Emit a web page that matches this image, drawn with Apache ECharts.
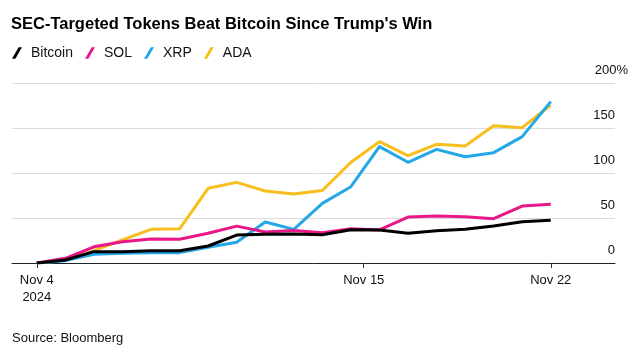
<!DOCTYPE html>
<html>
<head>
<meta charset="utf-8">
<script src="https://cdn.jsdelivr.net/npm/echarts@6/dist/echarts.min.js"></script>
<style>
  html, body { margin: 0; padding: 0; background: #fff; }
  #chart { width: 641px; height: 351px; }
</style>
</head>
<body>
<div id="chart"></div>
<script>
// days since Nov 4 2024, one point per day
const dates = ['Nov 4', 'Nov 5', 'Nov 6', 'Nov 7', 'Nov 8', 'Nov 9', 'Nov 10', 'Nov 11', 'Nov 12', 'Nov 13',
  'Nov 14', 'Nov 15', 'Nov 16', 'Nov 17', 'Nov 18', 'Nov 19', 'Nov 20', 'Nov 21', 'Nov 22']
const bitcoin = [0, 3.3, 12.6, 12.6, 13.7, 13.7, 18.9, 31, 31.9, 32.2, 31.5, 37, 36.7, 33, 35.9, 37.4, 41, 45.9, 47.4]
const sol = [0, 5.2, 18, 23.7, 26.7, 26.3, 33, 41, 34.5, 36, 33.5, 38, 36.7, 51, 52.2, 51.5, 49.3, 63.3, 65.2]
const xrp = [0, 2.6, 9.8, 10.7, 11.5, 11.5, 17.4, 23, 45.5, 37.4, 66.3, 84.8, 129.3, 111.9, 126.3, 118.1, 122.6, 140.4, 179.3]
const ada = [0, 3, 13.7, 25.6, 37.4, 38, 83, 89.6, 80, 76.7, 80.5, 112, 134.8, 119.3, 131.9, 130, 152.6, 150.4, 175.6]

// x tick labels (Bloomberg puts the Nov 15 tick a bit right of the point)
const tickDays = [0, 11.45, 18]
const tickLabels = ['Nov 4\n2024', 'Nov 15', 'Nov 22']
const yTicks = [0, 50, 100, 150, 200]

const font = "'Liberation Sans', Arial, sans-serif"
const toPairs = arr => arr.map((v, i) => [i, v])

const chart = echarts.init(document.getElementById('chart'))

const mkSeries = (name, data, color, z) => ({
  name: name,
  type: 'line',
  data: toPairs(data),
  showSymbol: false,
  z: z,
  lineStyle: { width: 3, color: color, join: 'round' },
  itemStyle: { color: color },
  animation: false
})

const option = {
  backgroundColor: '#fff',
  textStyle: { fontFamily: font },
  title: {
    text: "SEC-Targeted Tokens Beat Bitcoin Since Trump's Win",
    left: 11,
    top: 16,
    padding: 0,
    textStyle: { fontSize: 16.5, fontWeight: 'bold', color: '#000', fontFamily: font }
  },
  legend: {
    left: 12,
    top: 46,
    padding: 0,
    itemGap: 12,
    itemWidth: 10,
    itemHeight: 12,
    icon: 'path://M0,12 L7,0 L10.5,0 L3.5,12 Z',
    textStyle: { fontSize: 14, color: '#111', fontFamily: font, padding: [0, 0, 0, 4] },
    data: ['Bitcoin', 'SOL', 'XRP', 'ADA']
  },
  graphic: [{
    type: 'text',
    left: 12,
    top: 332,
    style: { text: 'Source: Bloomberg', font: '13px ' + font, fill: '#111' }
  }],
  grid: { left: 12, right: 26, top: 83, bottom: 88 },
  xAxis: {
    type: 'value',
    min: -0.87,
    max: 20.25,
    splitLine: { show: false },
    axisLine: { show: true, onZero: false, lineStyle: { color: '#222', width: 1 } },
    axisTick: { show: true, length: 5, customValues: tickDays, lineStyle: { color: '#333' } },
    axisLabel: {
      customValues: tickDays,
      margin: 9,
      fontSize: 13,
      lineHeight: 17,
      color: '#111',
      formatter: v => tickLabels[tickDays.indexOf(v)] || ''
    }
  },
  yAxis: {
    type: 'value',
    position: 'right',
    min: 0,
    max: 200,
    interval: 50,
    axisLine: { show: false },
    axisTick: { show: false },
    splitLine: { lineStyle: { color: '#dcdcdc', width: 1 } },
    axisLabel: {
      inside: false,
      margin: 13,
      align: 'right',
      verticalAlign: 'bottom',
      padding: [0, 0, 6, 0],
      fontSize: 13,
      color: '#111',
      formatter: v => (v === yTicks[yTicks.length - 1] ? v + '%' : v + '{pad|}'),
      rich: { pad: { width: 13 } }
    }
  },
  series: [
    mkSeries('Bitcoin', bitcoin, '#000000', 5),
    mkSeries('SOL', sol, '#e8178a', 4),
    mkSeries('XRP', xrp, '#23a7e6', 3),
    mkSeries('ADA', ada, '#f7be1e', 2)
  ]
}

chart.setOption(option)
</script>
</body>
</html>
